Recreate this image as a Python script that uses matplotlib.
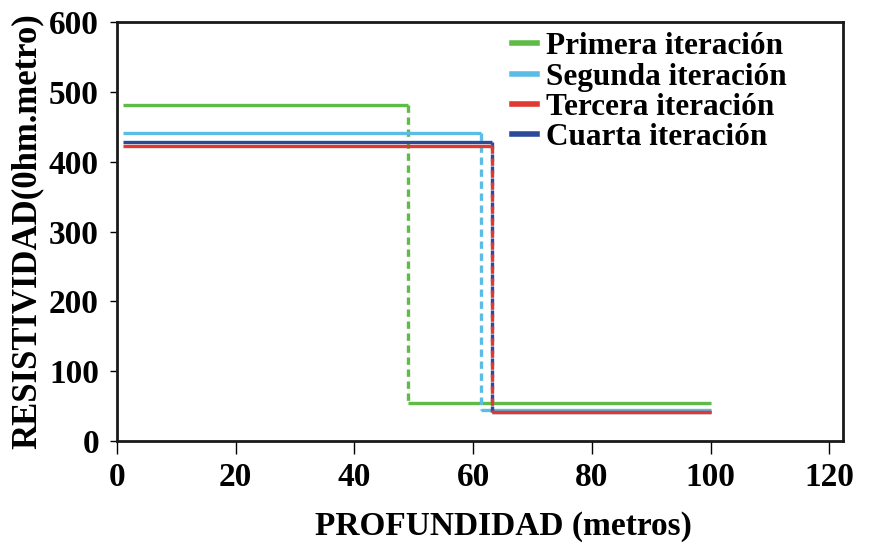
import matplotlib
matplotlib.use('Agg')
import matplotlib.pyplot as plt
from matplotlib.lines import Line2D

# layered model per iteration: top layer resistivity, interface depth, bottom layer resistivity
series = ['Primera iteración', 'Segunda iteración', 'Tercera iteración', 'Cuarta iteración']
colors = ['#5dbb46', '#5bbde6', '#e0392f', '#2d4a9a']
x_start = [1, 1, 1, 1]
depth = [49, 61.3, 63.2, 63.2]
rho_top = [481, 441, 423, 428]
rho_bottom = [54, 44, 41, 41]
x_end = [100, 100, 100, 100]

xticks = [0, 20, 40, 60, 80, 100, 120]
yticks = [0, 100, 200, 300, 400, 500, 600]

plt.rcParams['font.family'] = ['Liberation Serif', 'DejaVu Serif']
plt.rcParams['font.weight'] = 'bold'

fig = plt.figure(figsize=(8.7, 5.46), dpi=100)
ax = fig.add_axes([117 / 870, 1 - 441 / 546, (843 - 117) / 870, (441 - 22) / 546])

# draw bottom layers first, then the darker ones on top
order = [0, 1, 3, 2]
for i in order:
    c = colors[i]
    ax.plot([x_start[i], depth[i]], [rho_top[i], rho_top[i]], color=c, lw=2.4, solid_capstyle='butt')
    ax.plot([depth[i], depth[i]], [rho_top[i], rho_bottom[i]], color=c, lw=2.4,
            linestyle=(0, (2.2, 1.4)))
    ax.plot([depth[i], x_end[i]], [rho_bottom[i], rho_bottom[i]], color=c, lw=2.4, solid_capstyle='butt')

ax.set_xlim(0, 122.3)
ax.set_ylim(0, 600)
ax.set_xticks(xticks)
ax.set_yticks(yticks)
ax.tick_params(axis='x', labelsize=24, length=9, width=1, direction='out', pad=6)
ax.tick_params(axis='y', labelsize=24, length=5, width=1, direction='out', pad=8)
for lab in ax.get_xticklabels() + ax.get_yticklabels():
    lab.set_fontweight('bold')
for s in ax.spines.values():
    s.set_linewidth(2)
    s.set_color('#1a1a1a')

fig.text(503 / 870, 1 - 527 / 546, 'PROFUNDIDAD (metros)', fontsize=24, fontweight='bold',
         ha='center', va='center')
ax.set_ylabel('RESISTIVIDAD(0hm.metro)', fontsize=25, fontweight='bold', labelpad=4)

handles = [Line2D([], [], color=c, lw=4) for c in colors]
ax.legend(handles, series, loc='upper right', bbox_to_anchor=(0.94, 1.005), frameon=False,
          prop={'size': 22.5, 'weight': 'bold'}, handlelength=0.8, handletextpad=0.3,
          labelspacing=0.04, borderaxespad=0)

fig.savefig('out.png', dpi=100)
